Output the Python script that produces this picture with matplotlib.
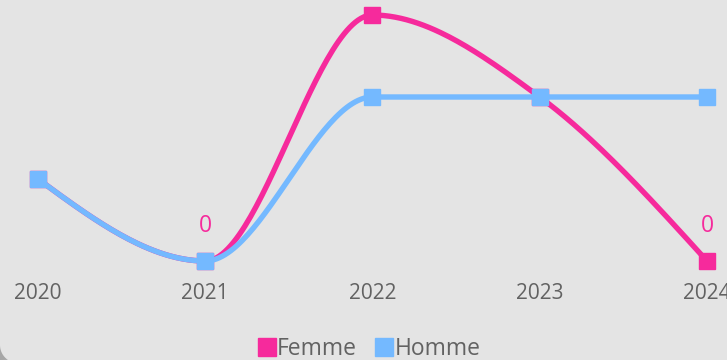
import numpy as np
import matplotlib
matplotlib.use("Agg")
from matplotlib import pyplot as plt
from matplotlib.lines import Line2D
from matplotlib.patches import Polygon

years = ["2020", "2021", "2022", "2023", "2024"]
femme = [1, 0, 3, 2, 0]
homme = [1, 0, 2, 2, 2]
femme_labelled = [1, 4]  # points that carry a value label

PINK = "#f62a9c"
BLUE = "#74b9ff"
BG = "#e4e4e4"
TEXT = "#626262"

plt.rcParams["font.family"] = ["Open Sans", "DejaVu Sans"]


def monotone_curve(ys, steps=60):
    # monotone cubic (same as d3.curveMonotoneX) through evenly spaced points
    xs = np.arange(len(ys), dtype=float)
    ys = np.asarray(ys, dtype=float)
    n = len(ys)
    secants = np.diff(ys)
    tang = np.zeros(n)
    for i in range(1, n - 1):
        s0, s1 = secants[i - 1], secants[i]
        p = (s0 + s1) / 2
        tang[i] = (np.sign(s0) + np.sign(s1)) * min(abs(s0), abs(s1), 0.5 * abs(p))
    tang[0] = (3 * secants[0] - tang[1]) / 2
    tang[-1] = (3 * secants[-1] - tang[-2]) / 2
    out_x, out_y = [], []
    for i in range(n - 1):
        t = np.linspace(0, 1, steps)
        h00 = 2 * t**3 - 3 * t**2 + 1
        h10 = t**3 - 2 * t**2 + t
        h01 = -2 * t**3 + 3 * t**2
        h11 = t**3 - t**2
        out_x.append(xs[i] + t)
        out_y.append(h00 * ys[i] + h10 * tang[i] + h01 * ys[i + 1] + h11 * tang[i + 1])
    return np.concatenate(out_x), np.concatenate(out_y)


fig = plt.figure(figsize=(7.27, 3.6), dpi=100)
fig.patch.set_facecolor(BG)

# rounded card corner at bottom left
r = 18
ang = np.linspace(np.pi, 1.5 * np.pi, 30)
cx = r + r * np.cos(ang)
cy = 345 - r * np.sin(ang)
pts = [(0, 360)] + [(x, y) for x, y in zip(cx, cy) if y <= 360]
pts = [(x / 727, 1 - y / 360) for x, y in pts] + [(0, 0)]
fig.patches.append(Polygon(pts, closed=True, transform=fig.transFigure,
                           facecolor="#a6a6a6", edgecolor="none", zorder=-1))

ax = fig.add_axes([0, 80 / 360, 1, 280 / 360])
ax.set_facecolor("none")
step = 167.25
ax.set_xlim(-38 / step, (727 - 38) / step)
ax.set_ylim((261 - 280) / 82, 261 / 82)
for s in ax.spines.values():
    s.set_visible(False)
ax.set_yticks([])
ax.set_xticks(range(len(years)), years)
ax.tick_params(axis="x", length=0, pad=2.5, labelsize=15, labelcolor=TEXT)

fx, fy = monotone_curve(femme)
hx, hy = monotone_curve(homme)
ax.plot(fx, fy, color=PINK, lw=3.9, solid_capstyle="butt", zorder=2)
ax.plot(range(len(femme)), femme, ls="none", marker="s", ms=11.5, color=PINK, zorder=3)
ax.plot(hx, hy, color=BLUE, lw=3.9, solid_capstyle="butt", zorder=4)
ax.plot(range(len(homme)), homme, ls="none", marker="s", ms=11.5, color=BLUE, zorder=5)

for i in femme_labelled:
    ax.annotate(f"{femme[i]:g}", (i, femme[i]), xytext=(0, 25), textcoords="offset points",
                ha="center", va="center", fontsize=16.5, color=PINK, zorder=6)

handles = [Line2D([], [], ls="none", marker="s", ms=13, color=PINK),
           Line2D([], [], ls="none", marker="s", ms=13, color=BLUE)]
fig.legend(handles, ["Femme", "Homme"], loc="center", bbox_to_anchor=(369 / 727, 1 - 349 / 360),
           ncol=2, frameon=False, fontsize=16.5, labelcolor=TEXT, handlelength=0.8,
           handletextpad=0.05, columnspacing=0.8, borderpad=0)

fig.savefig("out.png", dpi=100, facecolor=BG)
